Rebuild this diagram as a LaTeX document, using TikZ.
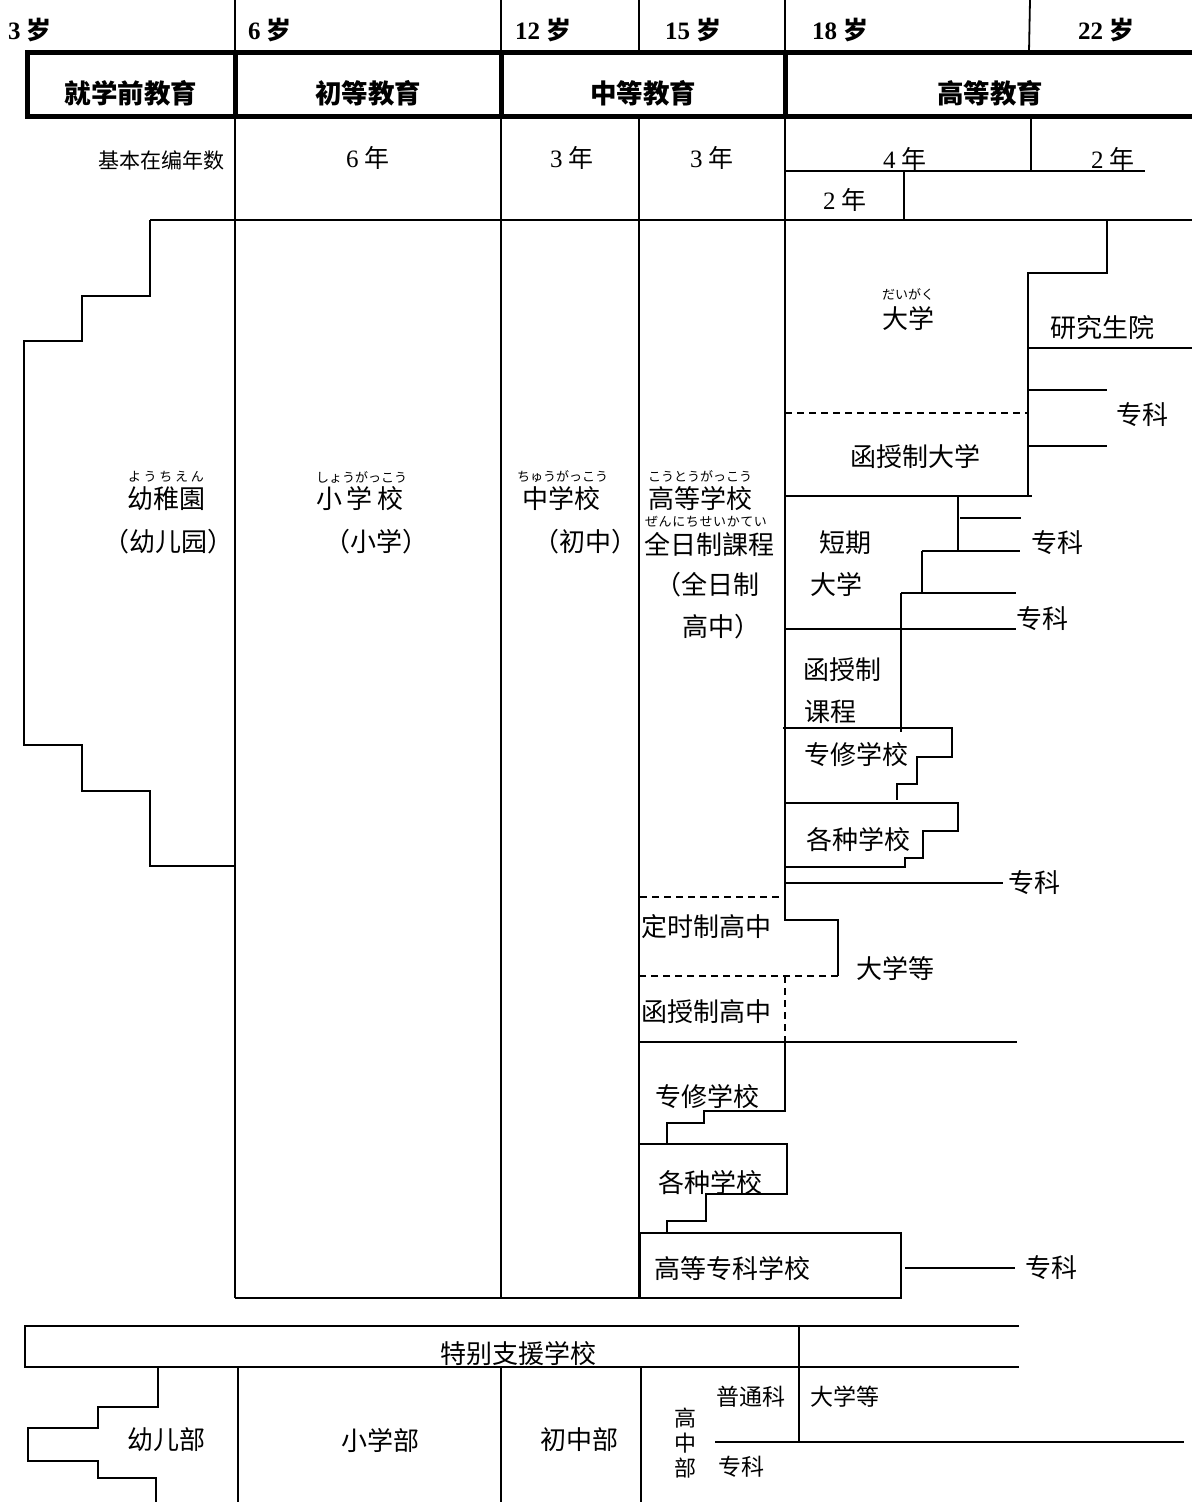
\documentclass[tikz,border=0pt]{standalone}
\usepackage{fontspec}
\setmainfont{Liberation Serif}
\newfontfamily\cjk{Noto Sans CJK SC}
\newcommand\rbs[2]{\makebox[#1][s]{#2}}
\begin{document}
\begin{tikzpicture}[x=1pt,y=-1pt,
  ln/.style={line width=1.8pt},
  hd/.style={line width=5pt},
  dsh/.style={line width=1.8pt, dash pattern=on 7pt off 5pt},
  lbl/.style={inner sep=0pt, font=\cjk\fontsize{26}{32}\selectfont},
  sml/.style={inner sep=0pt, font=\cjk\fontsize{23}{27}\selectfont},
  rb/.style={inner sep=0pt, font=\cjk\fontsize{13}{15}\selectfont},
  age/.style={inner sep=0pt, anchor=west, font=\bfseries\fontsize{25}{29}\selectfont},
  hdl/.style={inner sep=0pt, font=\cjk\bfseries\fontsize{26.5}{32}\selectfont},
  yr/.style={inner sep=0pt, font=\fontsize{25}{29}\selectfont}]
\useasboundingbox (0,0) rectangle (1192,1502);
% ---------- ages ----------
\node[age] (a3) at (8,30) {3 {\cjk\bfseries 岁}};
\node[age] (a6) at (248,30) {6 {\cjk\bfseries 岁}};
\node[age] (a12) at (515,30) {12 {\cjk\bfseries 岁}};
\node[age] (a15) at (665,30) {15 {\cjk\bfseries 岁}};
\node[age] (a18) at (812,30) {18 {\cjk\bfseries 岁}};
\node[age] (a22) at (1078,30) {22 {\cjk\bfseries 岁}};
\draw[ln] (235,0) -- (235,52) (501,0) -- (501,52) (639,0) -- (639,52) (785,0) -- (785,52) (1030,0) -- (1029,52);
% ---------- header ----------
\draw[hd] (1192,52) -- (27,52) -- (27,116) -- (1192,116);
\draw[hd] (235,52) -- (235,116) (501,52) -- (501,116) (785,52) -- (785,116);
\node[hdl] (h1) at (131,93) {就学前教育};
\node[hdl] (h2) at (368,93) {初等教育};
\node[hdl] (h3) at (643,93) {中等教育};
\node[hdl] (h4) at (990,93) {高等教育};
% ---------- years ----------
\node[inner sep=0pt, font=\cjk\fontsize{21}{25}\selectfont] (yl) at (161,160) {基本在编年数};
\node[yr] (y1) at (368,158) {6 {\cjk 年}};
\node[yr] (y2) at (572,158) {3 {\cjk 年}};
\node[yr] (y3) at (712,158) {3 {\cjk 年}};
\node[yr] (y4) at (905,159) {4 {\cjk 年}};
\node[yr] (y5) at (1113,159) {2 {\cjk 年}};
\node[yr] (y6) at (845,200) {2 {\cjk 年}};
\draw[ln] (1031,116) -- (1031,171) (785,171) -- (1145,171) (904,171) -- (904,220);
% ---------- main grid ----------
\draw[ln] (235,116) -- (235,1298) (501,116) -- (501,1298) (639,116) -- (639,1298);
\draw[ln] (150,220) -- (1192,220);
\draw[ln] (785,116) -- (785,920) -- (838,920) -- (838,976);
\draw[dsh] (838,976) -- (640,976);
\draw[ln] (235,866) -- (150,866) -- (150,791) -- (82,791) -- (82,745) -- (24,745) -- (24,341) -- (82,341) -- (82,296) -- (150,296) -- (150,220);
% ---------- upper right ----------
\draw[ln] (1107,220) -- (1107,273) -- (1028,273) -- (1028,496);
\draw[ln] (1028,348) -- (1192,348) (1028,390) -- (1107,390) (1028,446) -- (1107,446);
\draw[dsh] (785,413) -- (1028,413);
\draw[ln] (785,496) -- (1032,496);
\draw[ln] (958,496) -- (958,551) (960,518) -- (1021,518) (922,551) -- (1020,551) (922,551) -- (922,593) (901,593) -- (1016,593) (901,593) -- (901,732);
\draw[ln] (785,629) -- (1016,629);
\draw[ln] (783,728) -- (952,728) -- (952,757) -- (917,757) -- (917,784) -- (897,784) -- (897,800);
\draw[ln] (785,803) -- (958,803) -- (958,831) -- (923,831) -- (923,858) -- (905,858) -- (905,867) -- (785,867);
\draw[ln] (785,883) -- (1003,883);
\draw[dsh] (640,897) -- (785,897);
\draw[dsh] (785,976) -- (785,1042);
\draw[ln] (640,1042) -- (1017,1042);
\draw[ln] (785,1042) -- (785,1111) -- (704,1111) -- (704,1123) -- (667,1123) -- (667,1144);
\draw[ln] (640,1144) -- (787,1144) -- (787,1194) -- (706,1194) -- (706,1221) -- (667,1221) -- (667,1233);
\draw[ln] (640,1233) rectangle (901,1298);
\draw[ln] (905,1268) -- (1015,1268);
\draw[ln] (235,1298) -- (640,1298);
% ---------- labels ----------
\node[rb] (r1) at (166,477) {\rbs{76pt}{よ\hfil う\hfil ち\hfil え\hfil ん}};
\node[lbl] (t1) at (166,499) {幼稚園};
\node[lbl] (t1b) at (168,542) {（幼儿园）};
\node[rb] (r2) at (360,477) {\rbs{88pt}{し\hfil ょ\hfil う\hfil が\hfil っ\hfil こ\hfil う}};
\node[lbl] (t2) at (360,499) {小\hspace{5pt}学\hspace{5pt}校};
\node[lbl] (t2b) at (376,542) {（小学）};
\node[rb] (r3) at (561,477) {\rbs{88pt}{ち\hfil ゅ\hfil う\hfil が\hfil っ\hfil こ\hfil う}};
\node[lbl] (t3) at (561,499) {中学校};
\node[lbl] (t3b) at (585,542) {（初中）};
\node[rb] (r4) at (700,476) {\rbs{104pt}{こ\hfil う\hfil と\hfil う\hfil が\hfil っ\hfil こ\hfil う}};
\node[lbl] (t4) at (700,499) {高等学校};
\node[rb] (r5) at (706,522) {\rbs{122pt}{ぜ\hfil ん\hfil に\hfil ち\hfil せ\hfil い\hfil か\hfil て\hfil い}};
\node[lbl] (t5) at (709,544) {全日制課程};
\node[lbl] (t5b) at (707,585) {（全日制};
\node[lbl] (t5c) at (721,627) {高中）};
\node[rb] (r6) at (908,294) {だいがく};
\node[lbl] (t6) at (908,318) {大学};
\node[lbl] (t7) at (1102,328) {研究生院};
\node[lbl] (t8) at (1142,415) {专科};
\node[lbl] (t9) at (915,457) {函授制大学};
\node[lbl] (t10) at (845,543) {短期};
\node[lbl] (t11) at (836,584) {大学};
\node[lbl] (t12) at (1057,543) {专科};
\node[lbl] (t13) at (1042,619) {专科};
\node[lbl] (t14) at (842,670) {函授制};
\node[lbl] (t15) at (830,712) {课程};
\node[lbl] (t16) at (856,755) {专修学校};
\node[lbl] (t17) at (858,840) {各种学校};
\node[lbl] (t18) at (1034,883) {专科};
\node[lbl] (t19) at (706,927) {定时制高中};
\node[lbl] (t20) at (895,968) {大学等};
\node[lbl] (t21) at (706,1012) {函授制高中};
\node[lbl] (t22) at (707,1097) {专修学校};
\node[lbl] (t23) at (710,1183) {各种学校};
\node[lbl] (t24) at (732,1268) {高等专科学校};
\node[lbl] (t25) at (1051,1268) {专科};
% ---------- special support school ----------
\draw[ln] (1019,1326) -- (25,1326) -- (25,1367) -- (1019,1367);
\draw[ln] (799,1326) -- (799,1441);
\draw[ln] (238,1367) -- (238,1502) (501,1367) -- (501,1502) (641,1367) -- (641,1502);
\draw[ln] (158,1367) -- (158,1407) -- (98,1407) -- (98,1428) -- (28,1428) -- (28,1461) -- (98,1461) -- (98,1478) -- (156,1478) -- (156,1502);
\draw[ln] (715,1442) -- (1184,1442);
\node[lbl] (s1) at (518,1354) {特别支援学校};
\node[lbl] (s2) at (166,1440) {幼儿部};
\node[lbl] (s3) at (380,1440) {小学部};
\node[lbl] (s4) at (579,1440) {初中部};
\node[sml, align=center, font=\cjk\fontsize{22}{25}\selectfont] (s5) at (685,1443) {高\\中\\部};
\node[sml] (s6) at (751,1397) {普通科};
\node[sml] (s7) at (845,1397) {大学等};
\node[sml] (s8) at (741,1467) {专科};
\end{tikzpicture}
\end{document}
